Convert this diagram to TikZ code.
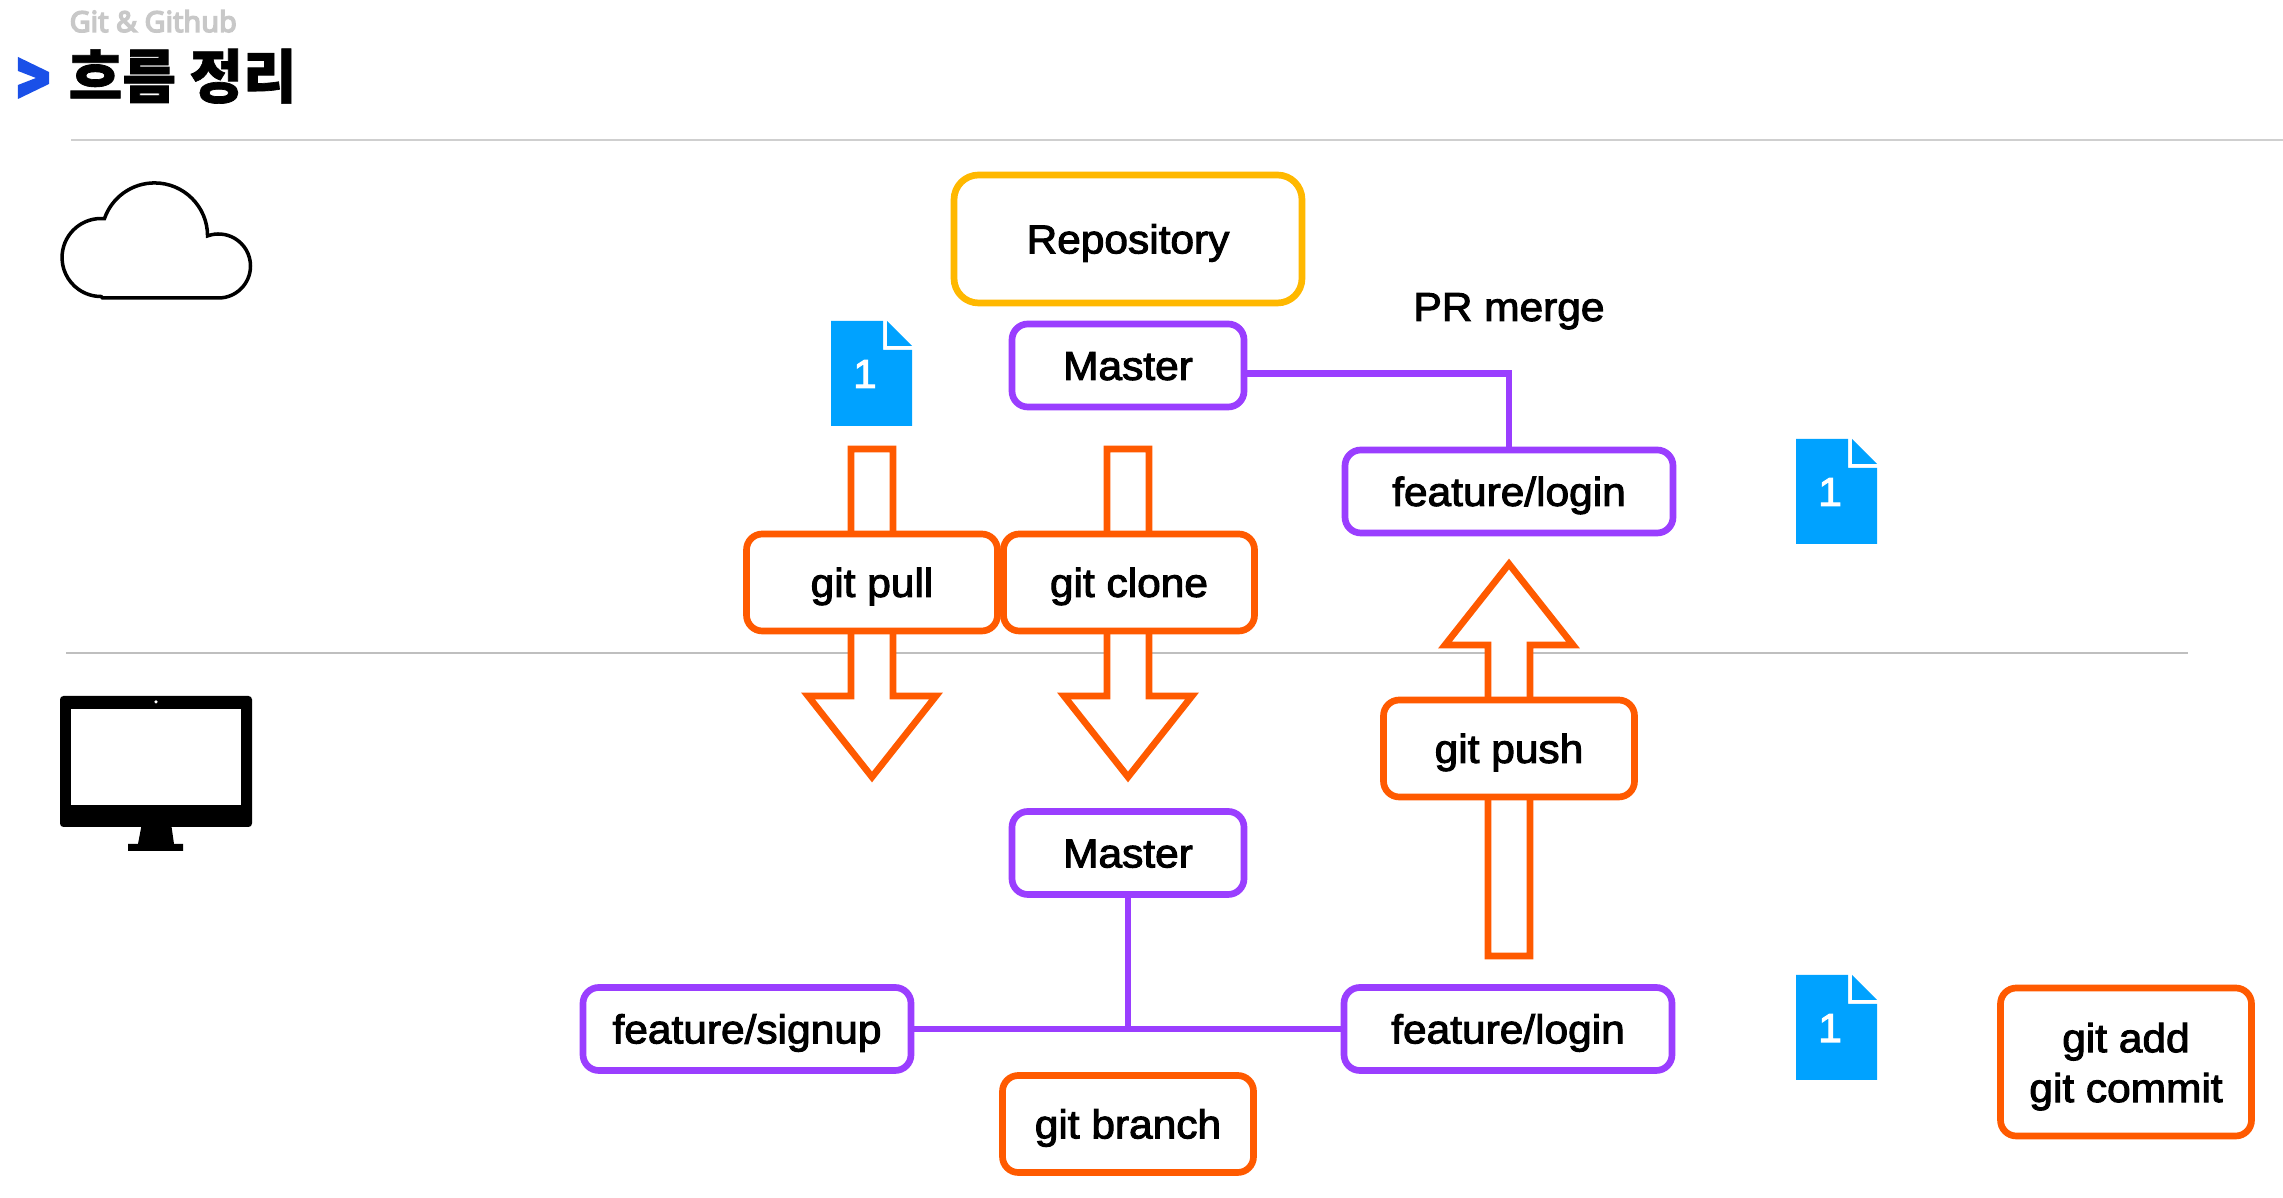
\documentclass[tikz,border=0pt]{standalone}
\usepackage{fontspec}
\usetikzlibrary{arrows.meta, positioning, calc}
\setmainfont{Liberation Sans}[FakeStretch=1.05, FakeBold=2.5]
\newfontfamily\krfont{Noto Sans CJK KR}[BoldFeatures={FakeBold=1.2}]
\newfontfamily\subfont{Noto Sans}[FakeBold=5]
\definecolor{brpurple}{HTML}{9A3EFF}
\definecolor{gitorange}{HTML}{FF5A00}
\definecolor{repoyellow}{HTML}{FFB800}
\definecolor{docblue}{HTML}{00A2FF}
\definecolor{chevblue}{HTML}{1A50E8}
\definecolor{rulegray}{HTML}{CFCFCF}
\definecolor{subgray}{HTML}{C8C8C8}
\tikzset{
  flowbox/.style={draw, fill=white, line width=1.9pt, rounded corners=4.5pt, inner sep=0pt,
    align=center, text height=8.8pt, text depth=0.6pt,
    font=\fontsize{11.5}{14.2}\selectfont},
  repobox/.style={flowbox, draw=repoyellow, rounded corners=7pt, minimum width=3.48cm, minimum height=1.28cm},
  branchbox/.style={flowbox, draw=brpurple, minimum width=3.28cm, minimum height=0.83cm},
  masterbox/.style={branchbox, minimum width=2.32cm},
  cmdbox/.style={flowbox, draw=gitorange, minimum width=2.51cm, minimum height=0.97cm},
  branchline/.style={brpurple, line width=1.9pt},
  hollowarrow/.pic={
    \draw[gitorange, fill=white, line width=1.9pt, miter limit=10]
      (0,0) -- (0.64,-0.81) -- (0.21,-0.81) -- (0.21,-#1) -- (-0.21,-#1)
      -- (-0.21,-0.81) -- (-0.64,-0.81) -- cycle;
  },
  docicon/.pic={
    \fill[docblue] (0,0) -- (0.52,0) -- (0.52,-0.29) -- (0.81,-0.29) -- (0.81,-1.05) -- (0,-1.05) -- cycle;
    \fill[docblue] (0.56,0) -- (0.81,-0.25) -- (0.56,-0.25) -- cycle;
    \node[text=white, anchor=base, inner sep=0pt, font=\fontsize{11.5}{14}\selectfont] (-label) at (0.34,-0.67) {1};
  }
}

\begin{document}
\begin{tikzpicture}

\useasboundingbox (0,0) rectangle (22.83,11.98);
\fill[white] (0,0) rectangle (22.83,11.98);

% Heading
\node[text=subgray, anchor=base west, inner sep=0pt, font=\subfont\fontsize{8.2}{10}\selectfont]
  (subtitle) at (0.69,11.66) {Git \& Github};
\fill[chevblue] (0.18,11.41) -- (0.49,11.26) -- (0.49,11.14) -- (0.18,10.99)
  -- (0.18,11.13) -- (0.36,11.20) -- (0.18,11.27) -- cycle;
\node[anchor=base west, inner sep=0pt, font=\krfont\bfseries\fontsize{16.6}{20}\selectfont]
  (title) at (0.68,11.00) {흐름 정리};

% Separators
\draw[rulegray, line width=0.6pt] (0.71,10.58) -- (22.83,10.58);
\draw[rulegray!80!gray, line width=0.5pt] (0.66,5.45) -- (21.88,5.45);

% Cloud
\draw[black, line width=1pt] (1.025,9.00) -- (2.185,9.00) arc (-90:110:0.32)
  arc (0:161:0.53) arc (85:270:0.39) -- cycle;

% Monitor
\fill[black, rounded corners=1pt] (0.60,5.02) rectangle (2.52,3.71);
\fill[black] (1.42,3.75) -- (1.71,3.75) -- (1.74,3.54) -- (1.83,3.54) -- (1.83,3.47)
  -- (1.28,3.47) -- (1.28,3.54) -- (1.38,3.54) -- cycle;
\fill[white] (0.71,4.89) rectangle (2.41,3.93);
\fill[white] (1.56,4.96) circle (0.5pt);

% Block arrows
\pic[rotate=180] (arrowPull) at (8.72,4.21) {hollowarrow=3.28};
\pic[rotate=180] (arrowClone) at (11.28,4.21) {hollowarrow=3.28};
\pic (arrowPush) at (15.09,6.34) {hollowarrow=3.92};

% Remote boxes
\node[repobox] (repo) at (11.28,9.59) {Repository};
\node[masterbox] (masterTop) at (11.28,8.325) {Master};
\node[branchbox] (loginTop) at (15.09,7.065) {feature/login};
\node[anchor=base, inner sep=0pt, font=\fontsize{11.5}{14}\selectfont] (prmerge) at (15.09,8.77) {PR merge};

% Command boxes
\node[cmdbox] (gitPull) at (8.72,6.155) {git pull};
\node[cmdbox] (gitClone) at (11.29,6.155) {git clone};
\node[cmdbox] (gitPush) at (15.09,4.495) {git push};
\node[cmdbox] (gitBranch) at (11.28,0.74) {git branch};
\node[cmdbox, minimum height=1.48cm, text height=22.8pt, text depth=0pt] (gitAdd) at (21.26,1.36) {git add\\git commit};

% Local boxes
\node[masterbox] (masterBot) at (11.28,3.45) {Master};
\node[branchbox] (signup) at (7.47,1.69) {feature/signup};
\node[branchbox] (loginBot) at (15.08,1.69) {feature/login};

% Branch lines
\draw[branchline] ([yshift=-0.08cm]masterTop.east) -| (loginTop.north);
\draw[branchline] (signup.east) -- (loginBot.west);
\draw[branchline] (masterBot.south) -- (masterBot.south |- signup.east);

% Documents
\pic (docPull) at (8.31,8.77) {docicon};
\pic (docTop) at (17.96,7.59) {docicon};
\pic (docBot) at (17.96,2.23) {docicon};

\end{tikzpicture}
\end{document}
